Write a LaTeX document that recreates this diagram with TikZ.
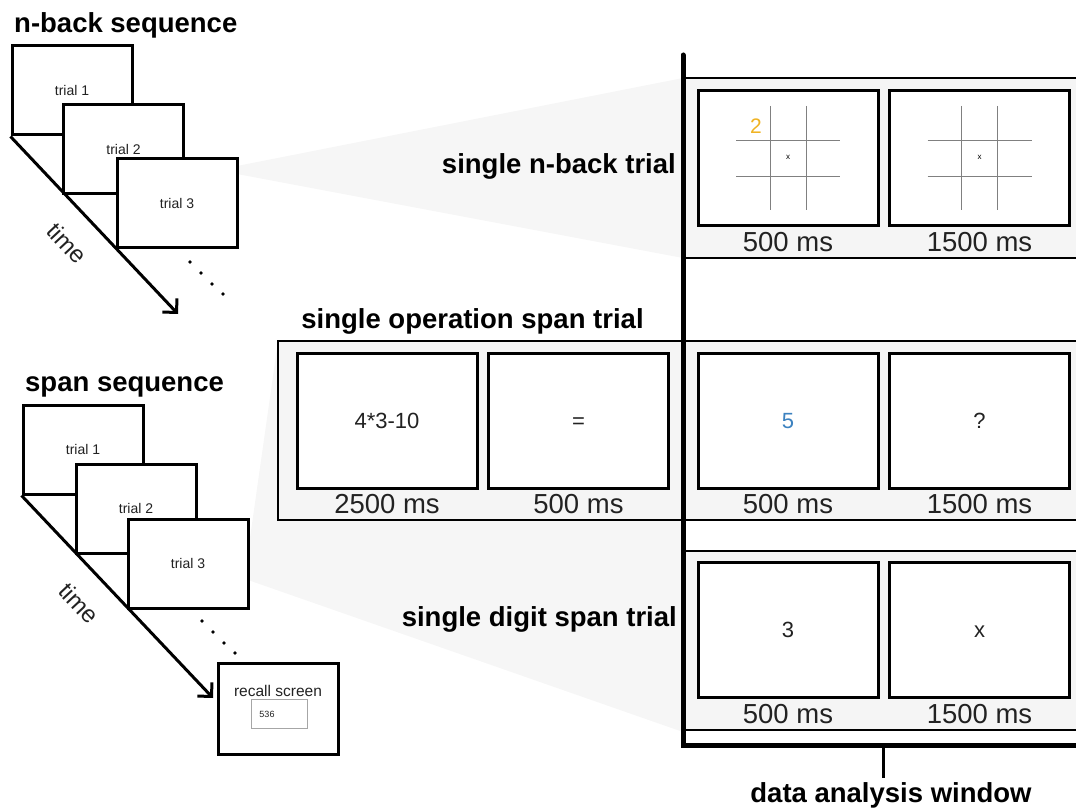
\documentclass[tikz,border=0pt]{standalone}
\usepackage{fontspec}
\setmainfont{Liberation Sans}
\usetikzlibrary{arrows.meta}
\definecolor{bandgray}{HTML}{F5F5F5}
\definecolor{wedgegray}{HTML}{F6F6F6}
\definecolor{cueyellow}{HTML}{F0B323}
\definecolor{cueblue}{HTML}{3C82C0}
\definecolor{inkgray}{HTML}{222222}
\begin{document}
\begin{tikzpicture}[x=1pt,y=-1pt,
  seqbox/.style={draw=black, fill=white, line width=3pt, minimum width=120pt,
    minimum height=89pt, inner sep=0pt, font=\fontsize{14}{16}\selectfont, text=inkgray},
  stimbox/.style={draw=black, fill=white, line width=3pt, minimum width=180pt,
    minimum height=135pt, inner sep=0pt, font=\fontsize{22}{26}\selectfont, text=inkgray,
    text height=15.8pt, text depth=0pt},
  durlabel/.style={font=\fontsize{27.5}{30}\selectfont, text=inkgray, inner sep=0pt, anchor=base},
  heading/.style={font=\fontsize{27.5}{30}\selectfont\bfseries, inner sep=0pt},
  timelabel/.style={font=\fontsize{24}{28}\selectfont, rotate=-47, inner sep=0pt, text=inkgray},
  timearrow/.style={line width=3pt, -{Straight Barb[length=10pt,width=20pt,line width=3pt]}},
  bandline/.style={line width=2pt},
  gridline/.style={draw=gray, line width=0.9pt},
  seqdot/.style={circle, fill=black, inner sep=0pt, minimum size=3.8pt},
]
\useasboundingbox (0,0) rectangle (1076,810);

% zoom wedges (behind everything)
\fill[wedgegray] (237,166) -- (683,78) -- (683,258) -- (237,174) -- cycle;
\fill[wedgegray] (248,552) -- (278,341) -- (278,520) -- (683,521) -- (683,732) -- (248,580) -- cycle;

% trial bands
\fill[bandgray] (683,78) rectangle (1076,258);
\draw[bandline] (683,78) -- (1076,78) (683,258) -- (1076,258);
\fill[bandgray] (278,341) rectangle (1076,520);
\draw[bandline] (1076,341) -- (278,341) -- (278,520) -- (1076,520);
\fill[bandgray] (683,551) rectangle (1076,730);
\draw[bandline] (683,551) -- (1076,551) (683,730) -- (1076,730);

% data analysis window bracket
\draw[line width=5pt, line cap=round, line join=miter] (683,55) -- (683,745) -- (1076,745);
\coordinate (tickTop) at (883,745);
\coordinate (tickEnd) at (883,778);
\draw[line width=3pt] (tickTop) -- (tickEnd);
\node[heading, anchor=base] (windowLabel) at (891,802) {data analysis window};

% ---- n-back sequence ----
\node[heading, anchor=base west] (nbTitle) at (14,33) {n-back sequence};
\node[seqbox] (nb1) at (72,90.5) {trial 1};
\node[seqbox] (nb2) at (123.5,149) {trial 2};
\node[seqbox] (nb3) at (177,203.5) {trial 3};
\coordinate (nbEnd) at (178,314);
\draw[timearrow] (nb1.south west) -- (nbEnd);
\node[timelabel] (nbTime) at (67,243) {time};
\node[seqdot] (nbd1) at (190,262) {};
\node[seqdot] (nbd2) at (201,273) {};
\node[seqdot] (nbd3) at (212,284) {};
\node[seqdot] (nbd4) at (223,294) {};

% ---- span sequence ----
\node[heading, anchor=base west] (spTitle) at (25,391) {span sequence};
\node[seqbox] (sp1) at (83,449.5) {trial 1};
\node[seqbox] (sp2) at (136,508.5) {trial 2};
\node[seqbox] (sp3) at (188,563.5) {trial 3};
\coordinate (spEnd) at (213,698);
\draw[timearrow] (sp1.south west) -- (spEnd);
\node[timelabel] (spTime) at (79,603) {time};
\node[seqdot] (spd1) at (202,621) {};
\node[seqdot] (spd2) at (213,632) {};
\node[seqdot] (spd3) at (224,643) {};
\node[seqdot] (spd4) at (235,653) {};
\node[seqbox, minimum height=91pt] (recall) at (278,708.5) {};
\node[font=\fontsize{15.5}{18}\selectfont, text=inkgray, inner sep=0pt] (recallText) at (278,691) {recall screen};
\node[draw=gray!70, line width=1pt, minimum width=56pt, minimum height=29pt, inner sep=0pt] (recallField) at (279,713.5) {};
\node[font=\fontsize{9}{10}\selectfont, text=inkgray, inner sep=0pt] (recallDigits) at (267,714) {536};

% ---- single n-back trial ----
\node[heading, anchor=base east] (nbTrialTitle) at (676,174) {single n-back trial};
\node[stimbox] (nbCue) at (788,158) {};
\node[stimbox] (nbWait) at (979.5,158) {};
\foreach \cx in {788,979.5}{
  \draw[gridline] (\cx-18,106) -- (\cx-18,210) (\cx+18,106) -- (\cx+18,210)
                  (\cx-52,140) -- (\cx+52,140) (\cx-52,176) -- (\cx+52,176);
}
\node[font=\fontsize{8}{9}\selectfont, inner sep=0pt] (nbFixA) at (788,157) {x};
\node[font=\fontsize{8}{9}\selectfont, inner sep=0pt] (nbFixB) at (979.5,157) {x};
\node[font=\fontsize{21}{22}\selectfont, text=cueyellow, inner sep=0pt] (nbDigit) at (756,126) {2};
\node[durlabel] (nbDurA) at (788,252) {500 ms};
\node[durlabel] (nbDurB) at (979.5,252) {1500 ms};

% ---- single operation span trial ----
\node[heading, anchor=base] (opTitle) at (472.5,328) {single operation span trial};
\node[stimbox] (opEq) at (387,420.5) {4*3-10};
\node[stimbox] (opSign) at (578.5,420.5) {=};
\node[stimbox, text=cueblue] (opDigit) at (788,420.5) {5};
\node[stimbox] (opQuery) at (979.5,420.5) {?};
\node[durlabel] (opDurA) at (387,513) {2500 ms};
\node[durlabel] (opDurB) at (578.5,513) {500 ms};
\node[durlabel] (opDurC) at (788,513) {500 ms};
\node[durlabel] (opDurD) at (979.5,513) {1500 ms};

% ---- single digit span trial ----
\node[heading, anchor=base east] (dsTitle) at (677,626) {single digit span trial};
\node[stimbox] (dsDigit) at (788,629.5) {3};
\node[stimbox] (dsMask) at (979.5,629.5) {x};
\node[durlabel] (dsDurA) at (788,723) {500 ms};
\node[durlabel] (dsDurB) at (979.5,723) {1500 ms};
\end{tikzpicture}
\end{document}
